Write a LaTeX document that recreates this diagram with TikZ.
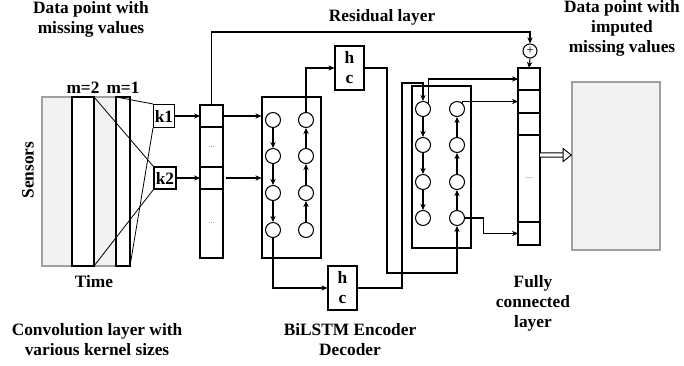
\documentclass[tikz,border=0pt]{standalone}
\usepackage{fontspec}
\setmainfont{Liberation Serif}
\usetikzlibrary{arrows.meta,positioning}
\definecolor{PanelGray}{HTML}{F2F2F2}
\definecolor{EdgeGray} {HTML}{A0A0A0}
\definecolor{DotGray}  {HTML}{707070}
\tikzset{
  lbl/.style={font=\bfseries\fontsize{13}{15}\selectfont,align=center},
  panel/.style={rectangle,draw=EdgeGray,fill=PanelGray,line width=0.8pt,
                inner sep=0pt,outer sep=0pt},
  layer/.style={rectangle,draw,fill=white,line width=0.8pt,inner sep=0pt,
                outer sep=0pt,minimum height=126.75pt},
  kbox/.style={rectangle,draw,fill=white,line width=0.8pt,inner sep=0pt,
               font=\bfseries\fontsize{13}{15}\selectfont,align=center},
  cell/.style={rectangle,draw,line width=0.8pt,inner sep=0pt,outer sep=0pt,
               minimum height=#1,font=\fontsize{6}{6}\selectfont\color{DotGray}},
  unit/.style={circle,draw,line width=0.8pt,inner sep=0pt,minimum size=11.25pt},
  arr/.style={-{Stealth[length=4.5pt,width=4pt]},line width=0.8pt},
  fat/.style={double,double distance=2.5pt,line width=0.7pt,
              -{Triangle[open,length=7pt,width=11pt,line width=0.7pt]}},
}
\begin{document}
\begin{tikzpicture}[x=0.75pt,y=-0.75pt]
  \useasboundingbox (0,0) rectangle (684,366);

  % titles
  \node[lbl] (tin)  at (91,19)  {Data point with\\missing values};
  \node[lbl] (tres) at (382,17) {Residual layer};
  \node[lbl] (tout) at (622,28) {Data point with\\imputed\\missing values};

  % convolution input
  \node[panel,minimum width=55.5pt,minimum height=126.75pt] (xin) at (79,181.5) {};
  \node[layer,minimum width=16.5pt] (m2) at (83,181.5) {};
  \node[layer,minimum width=10.5pt] (m1) at (123,181.5) {};
  \node[lbl] at (83,88)  {m=2};
  \node[lbl] at (123,88) {m=1};
  \node[lbl,rotate=90] (sens) at (28,170) {Sensors};
  \node[lbl] (time) at (94,282) {Time};

  \node[kbox,minimum width=15.75pt,minimum height=17.25pt] (k1) at (164,116) {k1};
  \node[kbox,minimum width=16.5pt,minimum height=16.5pt]   (k2) at (165,178) {k2};

  \draw[line width=0.6pt] (m1.north west) -- (k1.north west);
  \draw[line width=0.6pt] (k1.south west) -- (m1.south east);
  \draw[line width=0.6pt] (m2.north east) -- (k2.north west);
  \draw[line width=0.6pt] (k2.south west) -- (m2.south east);

  % feature vector
  \node[cell=16.5pt,minimum width=17.25pt] (v1) at (211.5,116) {};
  \node[cell=30pt,minimum width=17.25pt,below=0pt of v1]    (v2) {...};
  \node[cell=16.5pt,minimum width=17.25pt,below=0pt of v2]  (v3) {};
  \node[cell=51.75pt,minimum width=17.25pt,below=0pt of v3] (v4) {...};

  \draw[arr] (k1.east) -- (v1.west);
  \draw[arr] (k2.east) -- (v3.west);

  % encoder
  \node[rectangle,draw,line width=0.8pt,minimum width=44.25pt,minimum height=120.75pt]
    (enc) at (291.5,177.5) {};
  \node[unit] (e11) at (273,120) {};
  \node[unit] (e12) at (273,156) {};
  \node[unit] (e13) at (273,193) {};
  \node[unit] (e14) at (273,230) {};
  \node[unit] (e21) at (306,120) {};
  \node[unit] (e22) at (306,156) {};
  \node[unit] (e23) at (306,193) {};
  \node[unit] (e24) at (306,230) {};
  \draw[arr] (e11) -- (e12);
  \draw[arr] (e12) -- (e13);
  \draw[arr] (e13) -- (e14);
  \draw[arr] (e24) -- (e23);
  \draw[arr] (e23) -- (e22);
  \draw[arr] (e22) -- (e21);

  \draw[arr] (v1.east) -- (v1.east -| enc.west);
  \draw[arr] ([xshift=2pt]v3.east) -- (v3.east -| enc.west);

  % hidden / cell states
  \node[kbox,minimum width=21.75pt,minimum height=33pt] (hc1) at (349.5,68)  {h\\c};
  \node[kbox,minimum width=21.75pt,minimum height=33pt] (hc2) at (342.5,288) {h\\c};

  \draw[arr] (e21.north) |- (hc1.west);
  \draw[arr] (e14.south) |- (hc2.west);

  % decoder
  \node[rectangle,draw,line width=0.8pt,minimum width=44.25pt,minimum height=121.5pt]
    (dec) at (441.5,167) {};
  \node[unit] (d11) at (423,109) {};
  \node[unit] (d12) at (423,145) {};
  \node[unit] (d13) at (423,182) {};
  \node[unit] (d14) at (423,218) {};
  \node[unit] (d21) at (457,109) {};
  \node[unit] (d22) at (457,145) {};
  \node[unit] (d23) at (457,182) {};
  \node[unit] (d24) at (457,218) {};
  \draw[arr] (d11) -- (d12);
  \draw[arr] (d12) -- (d13);
  \draw[arr] (d13) -- (d14);
  \draw[arr] (d24) -- (d23);
  \draw[arr] (d23) -- (d22);
  \draw[arr] (d22) -- (d21);

  \coordinate (bend1) at (387,273);
  \coordinate (bend2) at (402,83);
  \draw[arr] (hc1.east) -| (bend1) -| (d24.south);
  \draw[arr] (hc2.east) -| (bend2) -| (d11.north);

  % fully connected layer
  \node[cell=16.5pt,minimum width=16.5pt] (fc1) at (529,79) {};
  \node[cell=17.25pt,minimum width=16.5pt,below=0pt of fc1] (fc2) {};
  \node[cell=16.5pt,minimum width=16.5pt,below=0pt of fc2]  (fc3) {};
  \node[cell=65.25pt,minimum width=16.5pt,below=0pt of fc3] (fc4) {....};
  \node[cell=17.25pt,minimum width=16.5pt,below=0pt of fc4] (fc5) {};

  \node[circle,draw,line width=0.8pt,inner sep=0pt,minimum size=10.5pt,
        font=\fontsize{10}{10}\selectfont] (plus) at (530,51) {+};

  \coordinate (res) at (530,32);
  \draw[arr] (v1.north) |- (res) -- (plus.north);
  \draw[arr] (plus.south) -- (fc1.north);

  \draw[arr] (d11.north east) |- (fc1.west);
  \draw[arr] (d21.north east) |- (fc2.west);
  \draw[arr] (d24.east) -- ++(18,0) |- (fc5.west);

  % output
  \node[panel,minimum width=66pt,minimum height=126pt] (out) at (616,166) {};
  \draw[fat] ([yshift=17.6pt]fc4.east) -- ([yshift=8.25pt]out.west);

  % captions
  \node[lbl] (cconv) at (97,340)  {Convolution layer with\\various kernel sizes};
  \node[lbl] (clstm) at (350,340) {BiLSTM Encoder\\Decoder};
  \node[lbl] (cfc)   at (533,303) {Fully\\connected\\layer};

\end{tikzpicture}
\end{document}
